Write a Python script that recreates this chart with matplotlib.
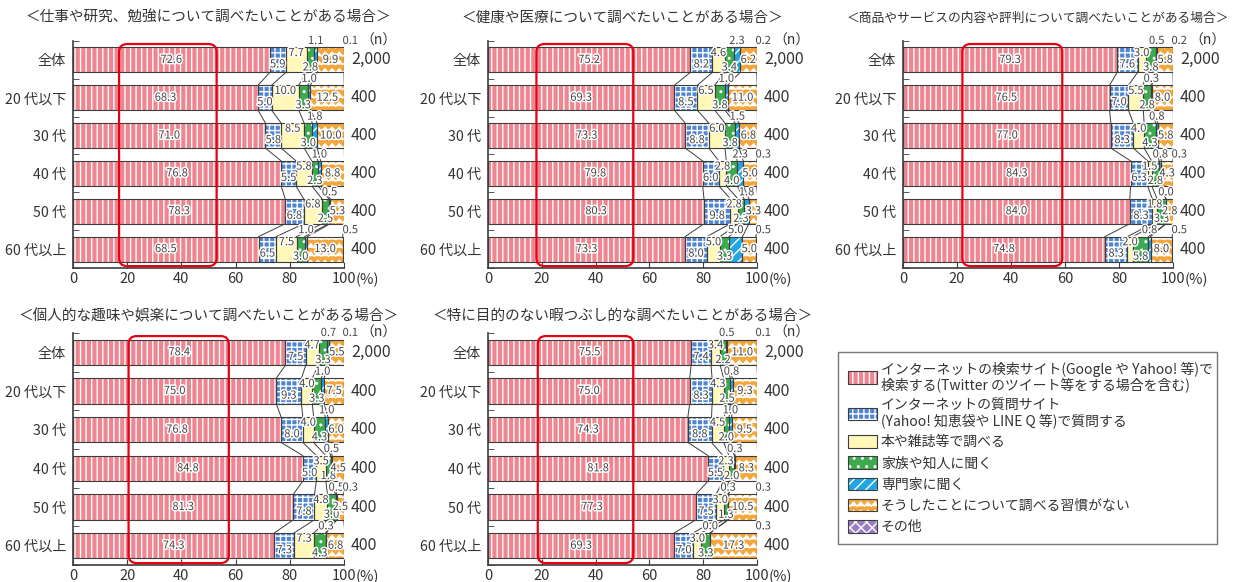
import warnings
import numpy as np
import matplotlib
matplotlib.use('Agg')
import matplotlib.pyplot as plt
import matplotlib.hatch as mhatch
import matplotlib.patheffects as pe
from matplotlib.path import Path
from matplotlib.patches import Patch, FancyBboxPatch

warnings.filterwarnings('ignore')

plt.rcParams['font.family'] = ['Noto Sans CJK JP', 'DejaVu Sans']
plt.rcParams['hatch.color'] = 'white'
plt.rcParams['hatch.linewidth'] = 1.0

categories = ['全体', '20 代以下', '30 代', '40 代', '50 代', '60 代以上']
n_values = ['2,000', '400', '400', '400', '400', '400']

# 仕事や研究、勉強
work_search = [72.6, 68.3, 71.0, 76.8, 78.3, 68.5]
work_qa = [5.9, 5.0, 5.8, 5.5, 6.8, 6.5]
work_book = [7.7, 10.0, 8.5, 5.8, 6.8, 7.5]
work_family = [2.8, 3.3, 3.0, 2.3, 2.5, 3.0]
work_expert = [1.1, 1.0, 1.8, 1.0, 0.5, 1.0]
work_none = [9.9, 12.5, 10.0, 8.8, 5.3, 13.0]
work_other = [0.1, 0, 0, 0, 0, 0.5]

# 健康や医療
health_search = [75.2, 69.3, 73.3, 79.8, 80.3, 73.3]
health_qa = [8.2, 8.5, 8.8, 6.0, 9.8, 8.0]
health_book = [4.6, 6.5, 6.0, 2.8, 2.8, 5.0]
health_family = [3.4, 3.8, 3.8, 4.0, 2.3, 3.3]
health_expert = [2.3, 1.0, 1.5, 2.3, 1.8, 5.0]
health_none = [6.2, 11.0, 6.8, 5.0, 3.3, 5.0]
health_other = [0.2, 0, 0, 0.3, 0, 0.5]

# 商品やサービスの内容や評判
goods_search = [79.3, 76.5, 77.0, 84.3, 84.0, 74.8]
goods_qa = [7.6, 7.0, 8.3, 6.3, 8.3, 8.3]
goods_book = [3.0, 5.5, 4.0, 1.5, 1.8, 2.0]
goods_family = [3.8, 2.8, 4.3, 2.8, 3.3, 5.8]
goods_expert = [0.5, 0.3, 0.8, 0.8, 0.0, 0.8]
goods_none = [5.8, 8.0, 5.8, 4.3, 2.8, 8.0]
goods_other = [0.2, 0, 0, 0.3, 0, 0.5]

# 個人的な趣味や娯楽
hobby_search = [78.4, 75.0, 76.8, 84.8, 81.3, 74.3]
hobby_qa = [7.5, 9.3, 8.0, 5.0, 7.8, 7.3]
hobby_book = [4.7, 4.0, 4.0, 3.5, 4.8, 7.3]
hobby_family = [3.3, 3.3, 4.3, 1.8, 3.0, 4.3]
hobby_expert = [0.7, 1.0, 1.0, 0.5, 0.5, 0.3]
hobby_none = [5.5, 7.5, 6.0, 4.5, 2.5, 6.8]
hobby_other = [0.1, 0, 0, 0, 0.3, 0]

# 特に目的のない暇つぶし
pastime_search = [75.5, 75.0, 74.3, 81.8, 77.3, 69.3]
pastime_qa = [7.4, 8.3, 8.8, 5.5, 7.5, 7.0]
pastime_book = [3.4, 4.3, 4.5, 2.3, 3.0, 3.0]
pastime_family = [2.2, 2.5, 2.0, 2.0, 1.3, 3.3]
pastime_expert = [0.5, 0.8, 1.0, 0.3, 0.3, 0.0]
pastime_none = [11.0, 9.3, 9.5, 8.3, 10.5, 17.3]
pastime_other = [0.1, 0, 0, 0, 0.3, 0.3]

titles = ['＜仕事や研究、勉強について調べたいことがある場合＞',
          '＜健康や医療について調べたいことがある場合＞',
          '＜商品やサービスの内容や評判について調べたいことがある場合＞',
          '＜個人的な趣味や娯楽について調べたいことがある場合＞',
          '＜特に目的のない暇つぶし的な調べたいことがある場合＞']

# red highlight range (x) for each panel
highlight = [(17, 53), (18, 54), (22, 59), (20.5, 57.5), (18.5, 54)]

legend_labels = ['インターネットの検索サイト(Google や Yahoo! 等)で\n検索する(Twitter のツイート等をする場合を含む)',
                 'インターネットの質問サイト\n(Yahoo! 知恵袋や LINE Q 等)で質問する',
                 '本や雑誌等で調べる',
                 '家族や知人に聞く',
                 '専門家に聞く',
                 'そうしたことについて調べる習慣がない',
                 'その他']


class ZigzagHatch(mhatch.HatchPatternBase):
    # 'z' in a hatch string -> rows of zigzag lines (orange segments)
    def __init__(self, hatch, density):
        self.num_rows = hatch.count('z') * density
        self.num_peaks = 14
        self.num_vertices = self.num_rows * (2 * self.num_peaks + 1)

    def set_vertices_and_codes(self, vertices, codes):
        npts = 2 * self.num_peaks + 1
        xs = np.linspace(0, 1, npts)
        amp = 0.5 / self.num_rows
        for i in range(self.num_rows):
            y0 = (i + 0.25) / self.num_rows
            vertices[i*npts:(i+1)*npts, 0] = xs
            vertices[i*npts:(i+1)*npts, 1] = y0 + amp * (np.arange(npts) % 2)
            codes[i*npts] = Path.MOVETO
            codes[i*npts+1:(i+1)*npts] = Path.LINETO


mhatch._hatch_types.append(ZigzagHatch)

face_colors = ['#EE8590', '#4F86D4', '#FFF8B8', '#3DAA50', '#22A5E3', '#F5A63A', '#9A7DC4']
hatches = ['|||', '+++', None, '..', '///', 'zz', 'xxx']
label_dy = [0, 0.12, -0.18, 0.2, -0.5, 0, -0.5]
edge = '#3d3d3d'
txt = '#333333'
bar_h = 0.66

W, H = 1237, 582
fig = plt.figure(figsize=(W / 100, H / 100), dpi=100)

# pixel boxes (x0, x1, y_top, y_bottom) of each plot area
boxes = [(73, 344, 41, 268), (488, 757, 41, 268), (903, 1173, 41, 268),
         (73, 344, 333, 565), (488, 757, 333, 565)]
panels = [
    [work_search, work_qa, work_book, work_family, work_expert, work_none, work_other],
    [health_search, health_qa, health_book, health_family, health_expert, health_none, health_other],
    [goods_search, goods_qa, goods_book, goods_family, goods_expert, goods_none, goods_other],
    [hobby_search, hobby_qa, hobby_book, hobby_family, hobby_expert, hobby_none, hobby_other],
    [pastime_search, pastime_qa, pastime_book, pastime_family, pastime_expert, pastime_none, pastime_other],
]
title_y = [18, 18, 18, 316, 316]
title_size = [10.5, 10.5, 9.2, 10.5, 10.5]

stroke = [pe.withStroke(linewidth=2.2, foreground='white')]

for p, series in enumerate(panels):
    x0, x1, yt, yb = boxes[p]
    ax = fig.add_axes([x0 / W, 1 - yb / H, (x1 - x0) / W, (yb - yt) / H])
    rows = np.arange(len(categories))
    left = np.zeros(len(categories))
    bounds = []
    for k, vals in enumerate(series):
        vals = np.array(vals, dtype=float)
        ax.barh(rows, vals, left=left, height=bar_h, color=face_colors[k],
                hatch=hatches[k], linewidth=0, zorder=2)
        ax.barh(rows, vals, left=left, height=bar_h, fill=False,
                edgecolor=edge, linewidth=0.8, zorder=3)
        for r in rows:
            v = vals[r]
            if k == 6 and v == 0:
                continue
            xpos = 102.3 if k == 6 else left[r] + v / 2
            ax.text(xpos, r + label_dy[k], f'{v:.1f}', ha='center', va='center',
                    fontsize=8, color='#444444', zorder=6, clip_on=False,
                    path_effects=stroke)
        left = left + vals
        if k < 6:
            bounds.append(left.copy())

    # connector lines between bars
    for b in bounds:
        for r in rows[:-1]:
            ax.plot([b[r], b[r + 1]], [r + bar_h / 2, r + 1 - bar_h / 2],
                    color=edge, lw=0.7, zorder=1)

    # red highlight box
    hx0, hx1 = highlight[p]
    aspect = ((x1 - x0) / 100) / ((yb - yt) / 6)
    ax.add_patch(FancyBboxPatch((hx0, -0.42), hx1 - hx0, 5.87,
                                boxstyle='round,pad=0,rounding_size=3',
                                mutation_aspect=aspect, fill=False,
                                edgecolor='#E60012', lw=1.6, zorder=5))

    ax.set_xlim(0, 100)
    ax.set_ylim(5.5, -0.5)
    ax.set_yticks(rows, categories)
    ax.set_yticks(np.arange(-0.5, 6, 1), minor=True)
    ax.tick_params(axis='y', which='major', length=0, pad=5, labelsize=10.2, labelcolor=txt)
    ax.tick_params(axis='y', which='minor', direction='in', length=4, color=edge)
    ax.set_xticks([0, 20, 40, 60, 80, 100], ['0', '20', '40', '60', '80', '100'])
    ax.tick_params(axis='x', direction='in', length=4, color=edge, labelsize=10.5,
                   labelcolor=txt, pad=3)
    for s in ['top', 'right']:
        ax.spines[s].set_visible(False)
    for s in ['left', 'bottom']:
        ax.spines[s].set_color(edge)
        ax.spines[s].set_linewidth(1.2)

    ax.annotate('(%)', xy=(100, 0), xycoords=('data', 'axes fraction'),
                xytext=(8.3, -3.5), textcoords='offset points', ha='left', va='top',
                fontsize=10.5, color=txt)
    ax.annotate('（n）', xy=(1, -0.5), xycoords=('axes fraction', 'data'),
                xytext=(12, 0), textcoords='offset points', ha='left', va='center',
                fontsize=10, color=txt, annotation_clip=False)
    for r, n in zip(rows, n_values):
        ax.annotate(n, xy=(1, r), xycoords=('axes fraction', 'data'),
                    xytext=(5, 0), textcoords='offset points', ha='left', va='center',
                    fontsize=11.5, color=txt, annotation_clip=False)

    fig.text((x0 + x1) / 2 / W, 1 - title_y[p] / H, titles[p], ha='center', va='center',
             fontsize=title_size[p], color=txt)

handles = [(Patch(facecolor=c, hatch=h, linewidth=0), Patch(fill=False, edgecolor=edge, linewidth=0.8))
           for c, h in zip(face_colors, hatches)]
leg = fig.legend(handles, legend_labels, loc='upper left',
                 bbox_to_anchor=(838 / W, 1 - 545 / H, 379 / W, 193 / H), mode='expand',
                 fontsize=10, frameon=True, fancybox=False, edgecolor='#555555',
                 handlelength=2.1, handleheight=1.0, handletextpad=0.3,
                 labelspacing=0.52, borderpad=0.7, borderaxespad=0, labelcolor=txt)
for t in leg.get_texts():
    t.set_linespacing(1.0)
leg.get_frame().set_linewidth(1.0)

fig.savefig('out.png', dpi=100)
